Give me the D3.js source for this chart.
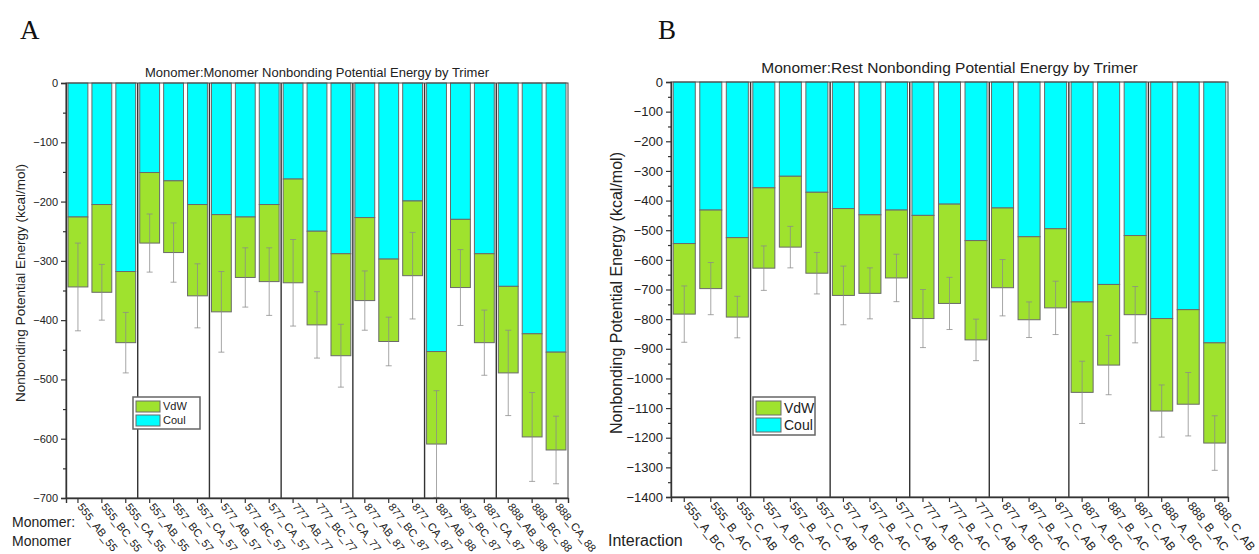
<!DOCTYPE html>
<html>
<head>
<meta charset="utf-8" />
<title>Nonbonding Potential Energy by Trimer</title>
<script src="https://cdnjs.cloudflare.com/ajax/libs/d3/7.8.5/d3.min.js"></script>
<style>
  body { margin: 0; background: white; }
  text { font-family: "Liberation Sans", Arial, sans-serif; fill: #222; }
  .letter { font-family: "Liberation Serif", "Times New Roman", serif; font-size: 27px; fill: #111; }
</style>
</head>
<body>
<div id="container"></div>
<script>
/* Panel A: monomer:monomer interactions (kcal/mol) */
var labelsA = ["555_AB_55", "555_BC_55", "555_CA_55", "557_AB_55", "557_BC_57", "557_CA_57",
               "577_AB_57", "577_BC_57", "577_CA_57", "777_AB_77", "777_BC_77", "777_CA_77",
               "877_AB_87", "877_BC_87", "877_CA_87", "887_AB_88", "887_BC_87", "887_CA_87",
               "888_AB_88", "888_BC_88", "888_CA_88"];
var coulA = [-226, -205, -318, -151, -165, -205, -222, -226, -205, -162, -250, -288,
             -227, -297, -199, -453, -230, -288, -343, -423, -454];
var vdwA  = [-118, -148, -120, -119, -121, -154, -164, -102, -130, -175, -158, -172,
             -140, -139, -126, -156, -115, -150, -146, -174, -165];
var errA  = [74, 47, 51, 49, 50, 54, 68, 50, 57, 73, 56, 53, 50, 41, 73, 90, 64, 55, 72, 75, 57];
var ticksA = [0, -100, -200, -300, -400, -500, -600, -700];

/* Panel B: monomer:rest interactions (kcal/mol) */
var labelsB = ["555_A_BC", "555_B_AC", "555_C_AB", "557_A_BC", "557_B_AC", "557_C_AB",
               "577_A_BC", "577_B_AC", "577_C_AB", "777_A_BC", "777_B_AC", "777_C_AB",
               "877_A_BC", "877_B_AC", "877_C_AB", "887_A_BC", "887_B_AC", "887_C_AB",
               "888_A_BC", "888_B_AC", "888_C_AB"];
var coulB = [-545, -432, -525, -357, -318, -372, -427, -448, -432, -450, -412, -535,
             -425, -522, -495, -742, -683, -518, -798, -768, -880];
var vdwB  = [-238, -265, -268, -271, -239, -273, -293, -265, -229, -348, -335, -335,
             -269, -280, -267, -305, -272, -267, -312, -319, -338];
var errB  = [95, 88, 70, 75, 70, 70, 99, 86, 80, 98, 88, 70, 95, 60, 90, 105, 100, 95, 88, 107, 92];
var ticksB = d3.range(0, -1401, -100);

var width = 1259, height = 554;
var vdwColor = "#9fe22e", coulColor = "#00ffff";

var svg = d3.select("#container").append("svg")
    .attr("width", width).attr("height", height);

function drawPanel(cfg) {
    var g = svg.append("g");
    var x = d3.scaleBand().domain(cfg.labels)
        .range([cfg.left, cfg.right])
        .paddingInner(0.17).paddingOuter(0.085);
    var y = d3.scaleLinear().domain([0, cfg.ymin]).range([cfg.top, cfg.bottom]);

    var rows = cfg.labels.map(function (l, i) {
        return { label: l, coul: cfg.coul[i], vdw: cfg.vdw[i], err: cfg.err[i],
                 total: cfg.coul[i] + cfg.vdw[i] };
    });

    // Coulomb part (top of the stack)
    g.selectAll(".coul").data(rows).enter().append("rect")
        .attr("x", function (d) { return x(d.label); })
        .attr("width", x.bandwidth())
        .attr("y", y(0))
        .attr("height", function (d) { return y(d.coul) - y(0); })
        .attr("fill", coulColor).attr("stroke", "#6a6a6a").attr("stroke-width", 1);

    // VdW part stacked below
    g.selectAll(".vdw").data(rows).enter().append("rect")
        .attr("x", function (d) { return x(d.label); })
        .attr("width", x.bandwidth())
        .attr("y", function (d) { return y(d.coul); })
        .attr("height", function (d) { return y(d.total) - y(d.coul); })
        .attr("fill", vdwColor).attr("stroke", "#6a6a6a").attr("stroke-width", 1);

    // error bars around the total
    var eb = g.selectAll(".err").data(rows).enter().append("g")
        .attr("stroke", "#8a8a8a").attr("stroke-opacity", 0.75).attr("stroke-width", 1);
    eb.append("line")
        .attr("x1", function (d) { return x(d.label) + x.bandwidth() / 2; })
        .attr("x2", function (d) { return x(d.label) + x.bandwidth() / 2; })
        .attr("y1", function (d) { return y(d.total + d.err); })
        .attr("y2", function (d) { return y(Math.max(d.total - d.err, cfg.ymin)); });
    [1, -1].forEach(function (s) {
        eb.filter(function (d) { return d.total - s * d.err >= cfg.ymin; })
            .append("line")
            .attr("x1", function (d) { return x(d.label) + x.bandwidth() / 2 - 3; })
            .attr("x2", function (d) { return x(d.label) + x.bandwidth() / 2 + 3; })
            .attr("y1", function (d) { return y(d.total - s * d.err); })
            .attr("y2", function (d) { return y(d.total - s * d.err); });
    });

    // group separators, every three bars
    var step = x.step();
    d3.range(3, cfg.labels.length, 3).forEach(function (k) {
        g.append("line")
            .attr("x1", cfg.left + step * k).attr("x2", cfg.left + step * k)
            .attr("y1", cfg.top).attr("y2", cfg.bottom)
            .attr("stroke", "#333").attr("stroke-width", 1.4);
    });

    // frame
    g.append("rect")
        .attr("x", cfg.left).attr("y", cfg.top)
        .attr("width", cfg.right - cfg.left).attr("height", cfg.bottom - cfg.top)
        .attr("fill", "none").attr("stroke", "#444").attr("stroke-width", 1);

    // y axis with minor ticks
    var yMinor = g.append("g").attr("transform", "translate(" + cfg.left + ",0)")
        .call(d3.axisLeft(y).tickValues(d3.range(-50, cfg.ymin, -100)).tickSize(3).tickFormat(""));
    yMinor.select(".domain").remove();
    var yAxis = g.append("g").attr("transform", "translate(" + cfg.left + ",0)")
        .call(d3.axisLeft(y).tickValues(cfg.ticks).tickSize(5).tickPadding(3).tickFormat(d3.format("d")));
    yAxis.selectAll("text").style("font-size", cfg.tickFont + "px")
        .style("font-family", "'Liberation Sans', Arial, sans-serif");
    g.selectAll(".tick line").attr("stroke", "#333").attr("stroke-width", 1.2);
    yAxis.select(".domain").attr("stroke", "#333").attr("stroke-width", 1.4);

    // x axis
    var xAxis = g.append("g").attr("transform", "translate(0," + cfg.bottom + ")")
        .call(d3.axisBottom(x).tickSize(5).tickPadding(3));
    xAxis.select(".domain").attr("stroke", "#333").attr("stroke-width", 1.4);
    xAxis.selectAll(".tick line").attr("stroke", "#333").attr("stroke-width", 1.2);
    xAxis.selectAll("text")
        .style("font-size", cfg.xFont + "px")
        .style("font-family", "'Liberation Sans', Arial, sans-serif")
        .attr("text-anchor", "start")
        .attr("x", 0).attr("y", 0).attr("dy", "0")
        .attr("transform", "translate(-1,9) rotate(52)");

    // title
    g.append("text")
        .attr("x", (cfg.left + cfg.right) / 2).attr("y", cfg.titleY)
        .attr("text-anchor", "middle")
        .style("font-size", cfg.titleFont + "px")
        .text(cfg.title);

    // y label
    g.append("text")
        .attr("transform", "translate(" + cfg.ylabelX + "," + cfg.ylabelY + ") rotate(-90)")
        .attr("text-anchor", "middle")
        .style("font-size", cfg.ylabelFont + "px")
        .text("Nonbonding Potential Energy (kcal/mol)");

    // legend
    var lg = g.append("g").attr("transform", "translate(" + cfg.legend[0] + "," + cfg.legend[1] + ")");
    var sw = cfg.legendSwatch;
    lg.append("rect").attr("width", cfg.legendW).attr("height", sw[1] * 2 + 10)
        .attr("fill", "white").attr("stroke", "#666").attr("stroke-width", 1.5);
    [["VdW", vdwColor], ["Coul", coulColor]].forEach(function (e, i) {
        lg.append("rect").attr("x", 3).attr("y", 4 + i * (sw[1] + 3))
            .attr("width", sw[0]).attr("height", sw[1])
            .attr("fill", e[1]).attr("stroke", "#6a6a6a");
        lg.append("text").attr("x", sw[0] + 6).attr("y", 4 + i * (sw[1] + 3) + sw[1] / 2)
            .attr("dy", "0.35em")
            .style("font-size", cfg.legendFont + "px")
            .text(e[0]);
    });
}

drawPanel({
    labels: labelsA, coul: coulA, vdw: vdwA, err: errA, ticks: ticksA,
    left: 66, right: 568, top: 83, bottom: 498, ymin: -700,
    tickFont: 11, xFont: 11, title: "Monomer:Monomer Nonbonding Potential Energy by Trimer",
    titleY: 77, titleFont: 13, ylabelX: 25, ylabelY: 283, ylabelFont: 13.5,
    legend: [133, 397], legendW: 67, legendSwatch: [24, 11], legendFont: 11
});

drawPanel({
    labels: labelsB, coul: coulB, vdw: vdwB, err: errB, ticks: ticksB,
    left: 671, right: 1228, top: 82, bottom: 497, ymin: -1400,
    tickFont: 13, xFont: 12, title: "Monomer:Rest Nonbonding Potential Energy by Trimer",
    titleY: 73, titleFont: 15.5, ylabelX: 622, ylabelY: 293, ylabelFont: 16,
    legend: [753, 397], legendW: 62, legendSwatch: [25, 14], legendFont: 14
});

// panel letters and axis captions
svg.append("text").attr("class", "letter").attr("x", 20).attr("y", 39).text("A");
svg.append("text").attr("class", "letter").attr("x", 658).attr("y", 39).text("B");
svg.append("text").attr("x", 12).attr("y", 527).style("font-size", "14px").text("Monomer:");
svg.append("text").attr("x", 12).attr("y", 546).style("font-size", "14px").text("Monomer");
svg.append("text").attr("x", 608).attr("y", 546).style("font-size", "16px").text("Interaction");
</script>
</body>
</html>
